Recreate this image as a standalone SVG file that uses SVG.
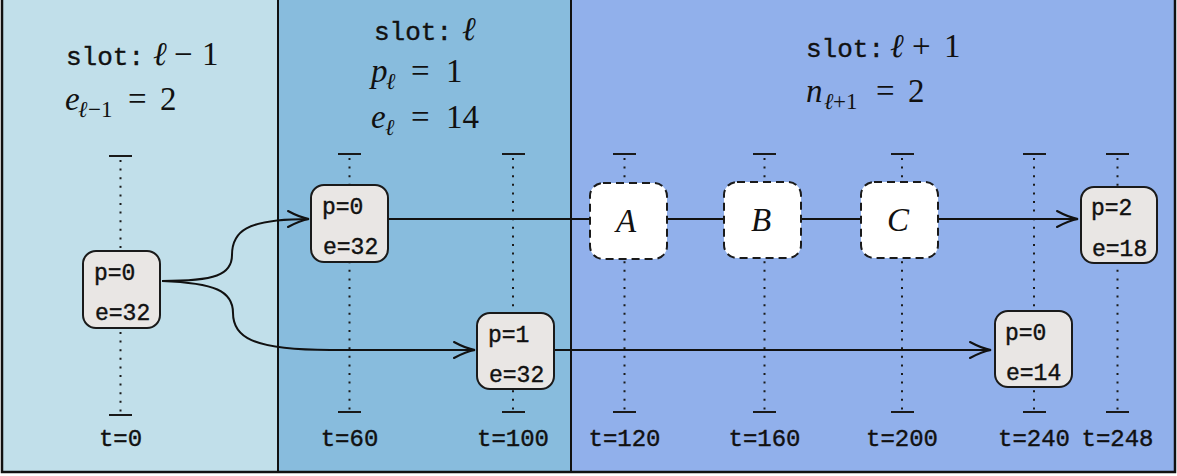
<svg xmlns="http://www.w3.org/2000/svg" width="1177" height="476" viewBox="0 0 1177 476">
<style>
.mono{font-family:"Liberation Mono","DejaVu Sans Mono",monospace;fill:#111;stroke:#111;stroke-width:0.4}
.hdr{font-size:26px}
.nt{font-size:23px}
.tl{font-size:24px;text-anchor:middle}
.m{font-family:"Liberation Serif","DejaVu Serif",serif;font-size:33px;fill:#111}
.mi{font-style:italic}
.sub{font-size:23px}
.node{fill:#E9E6E4;stroke:#1a1a1a;stroke-width:2}
.ph{fill:#ffffff;stroke:#1a1a1a;stroke-width:2;stroke-dasharray:8 5}
.dot{stroke:#1a1a1a;stroke-width:2;stroke-dasharray:2 6.6;fill:none}
.tick{stroke:#1a1a1a;stroke-width:2}
.conn{stroke:#111;stroke-width:2;fill:none}
.lbl{font-family:"Liberation Serif","DejaVu Serif",serif;font-style:italic;font-size:33px;fill:#111;text-anchor:middle}
</style>
<defs>
<marker id="arr" markerUnits="userSpaceOnUse" markerWidth="26" markerHeight="20" refX="23" refY="10" orient="auto">
<path d="M2,2 Q14,8.5 23,10 Q14,11.5 2,18" fill="none" stroke="#111" stroke-width="2" stroke-linecap="round"/>
</marker>
</defs>
<g id="panels">
<rect x="2" y="-2" width="276" height="474" fill="#C1DFEA"/>
<rect x="278" y="-2" width="293" height="474" fill="#88BCDD"/>
<rect x="571" y="-2" width="604" height="474" fill="#91B0EB"/>
<line x1="278" y1="0" x2="278" y2="472" stroke="#111" stroke-width="2"/>
<line x1="571" y1="0" x2="571" y2="472" stroke="#111" stroke-width="2"/>
<rect x="2" y="-2" width="1173" height="474" fill="none" stroke="#111" stroke-width="2.5"/>
</g>
<g id="headers">
<text y="65"><tspan class="mono hdr" x="66">slot:</tspan><tspan class="m mi" x="153">ℓ</tspan><tspan class="m" x="174">−</tspan><tspan class="m" x="202">1</tspan></text>
<text y="110"><tspan class="m mi" x="65">e</tspan><tspan class="m mi sub" x="78" y="117">ℓ</tspan><tspan class="m sub" x="88" y="117">−1</tspan><tspan class="m" x="128" y="110">=</tspan><tspan class="m" x="160" y="110">2</tspan></text>
<text y="40"><tspan class="mono hdr" x="374">slot:</tspan><tspan class="m mi" x="462">ℓ</tspan></text>
<text y="82"><tspan class="m mi" x="371">p</tspan><tspan class="m mi sub" x="386" y="89">ℓ</tspan><tspan class="m" x="411" y="82">=</tspan><tspan class="m" x="446" y="82">1</tspan></text>
<text y="128"><tspan class="m mi" x="371">e</tspan><tspan class="m mi sub" x="385" y="135">ℓ</tspan><tspan class="m" x="411" y="128">=</tspan><tspan class="m" x="446" y="128">14</tspan></text>
<text y="57"><tspan class="mono hdr" x="806">slot:</tspan><tspan class="m mi" x="890">ℓ</tspan><tspan class="m" x="912">+</tspan><tspan class="m" x="944">1</tspan></text>
<text y="102"><tspan class="m mi" x="806">n</tspan><tspan class="m mi sub" x="824" y="109">ℓ</tspan><tspan class="m sub" x="833" y="109">+1</tspan><tspan class="m" x="876" y="102">=</tspan><tspan class="m" x="908" y="102">2</tspan></text>
</g>
<g id="timelines">
<line class="dot" x1="120.5" y1="160" x2="120.5" y2="414"/>
<line class="tick" x1="109" y1="156" x2="132" y2="156"/><line class="tick" x1="109" y1="415" x2="132" y2="415"/>
<text class="mono tl" x="120.5" y="446">t=0</text>
<line class="dot" x1="349.5" y1="158" x2="349.5" y2="411"/>
<line class="tick" x1="338" y1="154" x2="361" y2="154"/><line class="tick" x1="338" y1="412" x2="361" y2="412"/>
<text class="mono tl" x="349.5" y="446">t=60</text>
<line class="dot" x1="513" y1="158" x2="513" y2="411"/>
<line class="tick" x1="502" y1="154" x2="525" y2="154"/><line class="tick" x1="502" y1="412" x2="525" y2="412"/>
<text class="mono tl" x="513" y="446">t=100</text>
<line class="dot" x1="624.5" y1="158" x2="624.5" y2="411"/>
<line class="tick" x1="613" y1="154" x2="636" y2="154"/><line class="tick" x1="613" y1="412" x2="636" y2="412"/>
<text class="mono tl" x="624.5" y="446">t=120</text>
<line class="dot" x1="764.5" y1="158" x2="764.5" y2="411"/>
<line class="tick" x1="753" y1="154" x2="776" y2="154"/><line class="tick" x1="753" y1="412" x2="776" y2="412"/>
<text class="mono tl" x="764.5" y="446">t=160</text>
<line class="dot" x1="902" y1="158" x2="902" y2="411"/>
<line class="tick" x1="891" y1="154" x2="914" y2="154"/><line class="tick" x1="891" y1="412" x2="914" y2="412"/>
<text class="mono tl" x="902" y="446">t=200</text>
<line class="dot" x1="1034" y1="158" x2="1034" y2="411"/>
<line class="tick" x1="1023" y1="154" x2="1046" y2="154"/><line class="tick" x1="1023" y1="412" x2="1046" y2="412"/>
<text class="mono tl" x="1034" y="446">t=240</text>
<line class="dot" x1="1117.5" y1="158" x2="1117.5" y2="411"/>
<line class="tick" x1="1106" y1="154" x2="1129" y2="154"/><line class="tick" x1="1106" y1="412" x2="1129" y2="412"/>
<text class="mono tl" x="1117.5" y="446">t=248</text>
</g>
<g id="connectors">
<path class="conn" d="M162,281 C215,281 232,275 232,255 C232,232 245,219 309,219" marker-end="url(#arr)"/>
<path class="conn" d="M162,281 C215,283 233,291 233,313 C233,336 250,350 330,350 L475,350" marker-end="url(#arr)"/>
<path class="conn" d="M389,219 L1078,219" marker-end="url(#arr)"/>
<path class="conn" d="M555,350 L991,350" marker-end="url(#arr)"/>
</g>
<g id="n1"><rect class="node" x="83" y="251" width="77" height="77" rx="13"/><text class="mono nt" x="94" y="280">p=0</text><text class="mono nt" x="95" y="320">e=32</text></g>
<g id="n2"><rect class="node" x="311" y="185" width="77" height="77" rx="13"/><text class="mono nt" x="322" y="214">p=0</text><text class="mono nt" x="323" y="254">e=32</text></g>
<g id="n3"><rect class="node" x="477" y="313" width="77" height="76" rx="13"/><text class="mono nt" x="488" y="342">p=1</text><text class="mono nt" x="489" y="382">e=32</text></g>
<g id="nA"><rect class="ph" x="590" y="183" width="77" height="76" rx="13"/><text class="lbl" x="626" y="232">A</text></g>
<g id="nB"><rect class="ph" x="724" y="182" width="77" height="76" rx="13"/><text class="lbl" x="761" y="231">B</text></g>
<g id="nC"><rect class="ph" x="861" y="182" width="77" height="76" rx="13"/><text class="lbl" x="898" y="231">C</text></g>
<g id="n4"><rect class="node" x="1081" y="187" width="76" height="76" rx="13"/><text class="mono nt" x="1091" y="215">p=2</text><text class="mono nt" x="1092" y="256">e=18</text></g>
<g id="n5"><rect class="node" x="995" y="311" width="77" height="76" rx="13"/><text class="mono nt" x="1005" y="340">p=0</text><text class="mono nt" x="1006" y="380">e=14</text></g>
</svg>
